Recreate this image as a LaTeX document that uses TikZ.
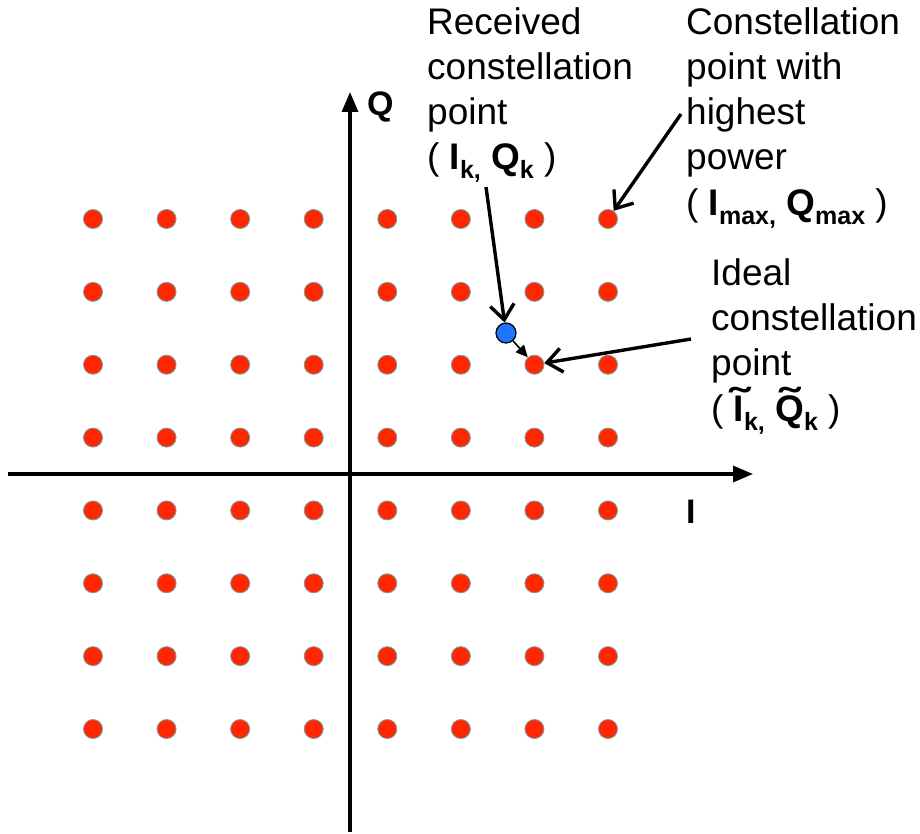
\documentclass[tikz,border=0pt]{standalone}
\usepackage{fontspec}
\setmainfont{Liberation Sans}
\usetikzlibrary{arrows.meta}
\definecolor{dotred}{RGB}{255,38,0}
\definecolor{dotedge}{RGB}{125,155,160}
\definecolor{bluedotc}{RGB}{30,115,255}
\newcommand\sbs[1]{\raisebox{-9pt}{\fontsize{25}{25}\selectfont\bfseries #1}}
\newcommand\tld[1]{{\ooalign{#1\cr\hidewidth\raisebox{0.13em}{\scalebox{1.6}[1.1]{\char"02DC}}\hidewidth\cr}}}
\begin{document}
\begin{tikzpicture}[x=1pt,y=-1pt,
  dot/.style={circle,fill=dotred,draw=dotedge,line width=0.9pt,minimum size=19pt,inner sep=0pt},
  bluedot/.style={circle,fill=bluedotc,draw=black,line width=1.2pt,minimum size=20pt,inner sep=0pt},
  axis/.style={line width=3.2pt,-{Triangle[length=20pt,width=16pt]}},
  callout/.style={line width=3.4pt,-{Straight Barb[length=15pt,width=24pt]}},
  smallarrow/.style={line width=1.6pt,-{Triangle[length=12pt,width=11pt]}},
  lbl/.style={anchor=base west,inner sep=0pt,font=\fontsize{37}{40}\selectfont},
  axlbl/.style={anchor=base west,inner sep=0pt,font=\fontsize{34}{36}\selectfont\bfseries}]
\useasboundingbox (0,0) rectangle (920,834);
% axes
\coordinate (qbot) at (350,832);
\coordinate (qtop) at (350,92);
\coordinate (ileft) at (8,474);
\coordinate (iright) at (753,474);
\draw[axis] (qbot) -- (qtop);
\draw[axis] (ileft) -- (iright);
\node[axlbl] (qlab) at (367,116) {Q};
\node[axlbl] (ilab) at (686,523) {I};
% constellation points
\foreach \i in {0,...,7}{
  \foreach \j in {0,...,7}{
    \node[dot] (d\i\j) at ({93+73.57*\i},{219+72.86*\j}) {};
  }
}
\node[bluedot] (rx) at (506,333) {};
% labels
\node[lbl] (r1) at (427,35) {Received};
\node[lbl] (r2) at (427,80) {constellation};
\node[lbl] (r3) at (427,125) {point};
\node[lbl] (r4) at (427,170) {( \textbf{I}\sbs{k,} \textbf{Q}\sbs{k} )};
\node[lbl] (c1) at (686,35) {Constellation};
\node[lbl] (c2) at (686,80) {point with};
\node[lbl] (c3) at (686,125) {highest};
\node[lbl] (c4) at (686,170) {power};
\node[lbl] (c5) at (686,216) {( \textbf{I}\sbs{max,} \textbf{Q}\sbs{max} )};
\node[lbl] (i1) at (711,285) {Ideal};
\node[lbl] (i2) at (711,330) {constellation};
\node[lbl] (i3) at (711,375) {point};
\node[lbl] (i4) at (711,421) {( \textbf{\tld{I}}\sbs{k,} \textbf{\tld{Q}}\sbs{k} )};
% connectors
\coordinate (a1) at (486,187);
\coordinate (a2) at (681,114);
\coordinate (a3) at (691,339);
\draw[callout] (a1) -- (rx);
\draw[callout] (a2) -- (d70);
\draw[callout] (a3) -- (d62);
\draw[smallarrow] (rx) -- (d62);
\end{tikzpicture}
\end{document}
